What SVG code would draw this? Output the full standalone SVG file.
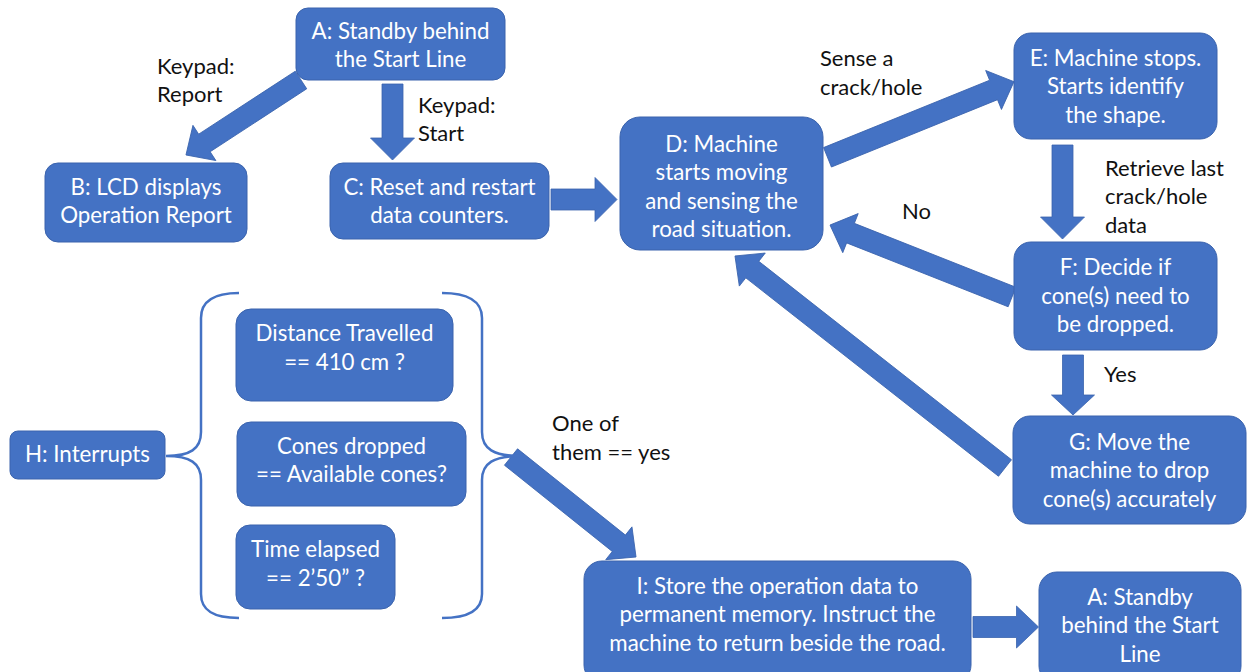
<svg xmlns="http://www.w3.org/2000/svg" width="1247" height="672" viewBox="0 0 1247 672">
  <style>
    .box { fill: #4472C4; stroke: #3A63AD; stroke-width: 1; }
    .t { font-family: Lato, "Open Sans", sans-serif; font-size: 22.3px; fill: #FFFFFF; text-anchor: middle; }
    .lbl { font-family: Lato, "Open Sans", sans-serif; font-size: 22px; fill: #111111; }
    .arrow { fill: #4472C4; stroke: #3A63AD; stroke-width: 0.8; }
    .brace { fill: none; stroke: #4472C4; stroke-width: 2.5; }
  </style>
  <rect width="1247" height="672" fill="#FFFFFF"/>

  <!-- connectors: block arrows drawn along +x, then placed -->
  <g id="connectors">
    <path class="arrow" transform="translate(301,80) rotate(146.9)" d="M0,-10.5 H115.3 V-21 L137.3,0 L115.3,21 V10.5 H0 Z"/>
    <path class="arrow" transform="translate(392.5,84) rotate(90)" d="M0,-10.5 H54 V-22 L76,0 L54,22 V10.5 H0 Z"/>
    <path class="arrow" transform="translate(551,199.5)" d="M0,-10.5 H44 V-22 L66,0 L44,22 V10.5 H0 Z"/>
    <path class="arrow" transform="translate(827.5,157.3) rotate(-22.07)" d="M0,-10.5 H179.2 V-21 L201.2,0 L179.2,21 V10.5 H0 Z"/>
    <path class="arrow" transform="translate(1062.5,145) rotate(90)" d="M0,-10.5 H72 V-22 L94,0 L72,22 V10.5 H0 Z"/>
    <path class="arrow" transform="translate(1012,297) rotate(201.58)" d="M0,-10.5 H173.7 V-21 L195.7,0 L173.7,21 V10.5 H0 Z"/>
    <path class="arrow" transform="translate(1005,468) rotate(218.14)" d="M0,-10.5 H321.3 V-21 L343.3,0 L321.3,21 V10.5 H0 Z"/>
    <path class="arrow" transform="translate(1073,355) rotate(90)" d="M0,-10.5 H40 V-21.5 L60,0 L40,21.5 V10.5 H0 Z"/>
    <path class="arrow" transform="translate(511,457) rotate(38.66)" d="M0,-10.5 H138.1 V-21 L160.1,0 L138.1,21 V10.5 H0 Z"/>
    <path class="arrow" transform="translate(973,627)" d="M0,-10.5 H43.5 V-21 L65.5,0 L43.5,21 V10.5 H0 Z"/>
  </g>

  <!-- braces around the interrupt conditions -->
  <g id="braces">
    <path class="brace" d="M239,293 C214,293 201,301 201,318 L201,432 C201,449 190,456 166,456 C190,456 201,463 201,480 L201,594 C201,611 214,618 239,618"/>
    <path class="brace" d="M442,293 C467,293 482,301 482,318 L482,432 C482,449 494,456 520,456 C494,456 482,463 482,480 L482,594 C482,611 467,618 442,618"/>
  </g>

  <!-- edge labels -->
  <g id="labels">
    <text class="lbl" x="157" y="74">Keypad:</text>
    <text class="lbl" x="157" y="102">Report</text>
    <text class="lbl" x="418" y="113">Keypad:</text>
    <text class="lbl" x="418" y="141">Start</text>
    <text class="lbl" x="820" y="66">Sense a</text>
    <text class="lbl" x="820" y="95">crack/hole</text>
    <text class="lbl" x="1105" y="176">Retrieve last</text>
    <text class="lbl" x="1105" y="204">crack/hole</text>
    <text class="lbl" x="1105" y="233">data</text>
    <text class="lbl" x="902" y="219">No</text>
    <text class="lbl" x="1104" y="382">Yes</text>
    <text class="lbl" x="552" y="431">One of</text>
    <text class="lbl" x="552" y="460">them == yes</text>
  </g>

  <g id="nodeA">
    <rect class="box" x="296" y="8" width="209" height="72" rx="12"/>
    <text class="t" x="400.5" y="39">A: Standby behind</text>
    <text class="t" x="400.5" y="67">the Start Line</text>
  </g>
  <g id="nodeB">
    <rect class="box" x="45" y="163" width="202" height="79" rx="13"/>
    <text class="t" x="146" y="195">B: LCD displays</text>
    <text class="t" x="146" y="223">Operation Report</text>
  </g>
  <g id="nodeC">
    <rect class="box" x="330" y="163" width="219" height="76" rx="13"/>
    <text class="t" x="439.5" y="195">C: Reset and restart</text>
    <text class="t" x="439.5" y="223">data counters.</text>
  </g>
  <g id="nodeD">
    <rect class="box" x="620" y="117" width="203" height="133" rx="20"/>
    <text class="t" x="721.5" y="152">D: Machine</text>
    <text class="t" x="721.5" y="180">starts moving</text>
    <text class="t" x="721.5" y="209">and sensing the</text>
    <text class="t" x="721.5" y="237">road situation.</text>
  </g>
  <g id="nodeE">
    <rect class="box" x="1014" y="33" width="203" height="106" rx="17"/>
    <text class="t" x="1115.5" y="66">E: Machine stops.</text>
    <text class="t" x="1115.5" y="94">Starts identify</text>
    <text class="t" x="1115.5" y="123">the shape.</text>
  </g>
  <g id="nodeF">
    <rect class="box" x="1014" y="242" width="203" height="108" rx="17"/>
    <text class="t" x="1115.5" y="275">F: Decide if</text>
    <text class="t" x="1115.5" y="304">cone(s) need to</text>
    <text class="t" x="1115.5" y="332">be dropped.</text>
  </g>
  <g id="nodeG">
    <rect class="box" x="1013" y="416" width="233" height="108" rx="17"/>
    <text class="t" x="1129.5" y="450">G: Move the</text>
    <text class="t" x="1129.5" y="478">machine to drop</text>
    <text class="t" x="1129.5" y="507">cone(s) accurately</text>
  </g>
  <g id="nodeH">
    <rect class="box" x="10" y="431" width="155" height="48" rx="8"/>
    <text class="t" x="87.5" y="462">H: Interrupts</text>
  </g>
  <g id="nodeDistance">
    <rect class="box" x="236" y="309" width="217" height="92" rx="15"/>
    <text class="t" x="344.5" y="341">Distance Travelled</text>
    <text class="t" x="344.5" y="370">== 410 cm ?</text>
  </g>
  <g id="nodeCones">
    <rect class="box" x="237" y="422" width="229" height="84" rx="14"/>
    <text class="t" x="351.5" y="454">Cones dropped</text>
    <text class="t" x="351.5" y="482">== Available cones?</text>
  </g>
  <g id="nodeTime">
    <rect class="box" x="236" y="525" width="159" height="84" rx="14"/>
    <text class="t" x="315.5" y="557">Time elapsed</text>
    <text class="t" x="315.5" y="586">== 2’50” ?</text>
  </g>
  <g id="nodeI">
    <rect class="box" x="584" y="561" width="387" height="122" rx="18"/>
    <text class="t" x="777.5" y="594">I: Store the operation data to</text>
    <text class="t" x="777.5" y="622">permanent memory. Instruct the</text>
    <text class="t" x="777.5" y="651">machine to return beside the road.</text>
  </g>
  <g id="nodeA2">
    <rect class="box" x="1039" y="572" width="202" height="112" rx="18"/>
    <text class="t" x="1140" y="605">A: Standby</text>
    <text class="t" x="1140" y="633">behind the Start</text>
    <text class="t" x="1140" y="662">Line</text>
  </g>
</svg>
